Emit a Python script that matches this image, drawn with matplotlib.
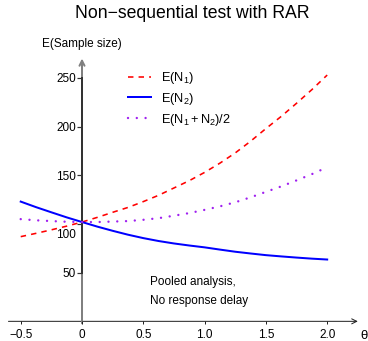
import matplotlib
matplotlib.use("Agg")
import matplotlib.pyplot as plt

plt.rcParams['font.family'] = ['Liberation Sans', 'DejaVu Sans']
plt.rcParams['mathtext.fontset'] = 'custom'
plt.rcParams['mathtext.rm'] = 'Liberation Sans'
plt.rcParams['mathtext.it'] = 'Liberation Sans:italic'

# values
theta = [-0.5, -0.375, -0.25, -0.125, 0.0, 0.125, 0.25, 0.375, 0.5, 0.625, 0.75,
         0.875, 1.0, 1.125, 1.25, 1.375, 1.5, 1.625, 1.75, 1.875, 2.0]
e_n1 = [87, 90.4, 94, 97.8, 102, 106.8, 112, 117, 123, 129.5, 137,
        144.5, 153, 162.5, 173, 185, 198, 210.5, 224, 238, 253]
e_n2 = [123, 117.3, 112, 106.8, 102, 97.3, 93, 89, 85.5, 82.5, 80,
        77.9, 76, 73.7, 71.5, 69.7, 68, 66.7, 65.5, 64.4, 63.5]
e_mean = [105, 103.8, 103, 102.3, 102, 102, 102.5, 103, 104.3, 106, 108.5,
          111.2, 114.5, 118.1, 122.3, 127.4, 133, 138.6, 144.8, 151.2, 158.3]

x_ticks = [-0.5, 0, 0.5, 1.0, 1.5, 2.0]
x_labels = ['\u22120.5', '0', '0.5', '1.0', '1.5', '2.0']
y_ticks = [50, 100, 150, 200, 250]
y_labels = ['50', '', '150', '200', '250']

W, H, DPI = 368, 341, 100
fig = plt.figure(figsize=(W / DPI, H / DPI), dpi=DPI)
ax = fig.add_axes([0, 0, 1, 1])
ax.set_xlim(-0.669, 2.333)
ax.set_ylim(-20.2, 330.1)
ax.patch.set_visible(False)

px = 72.0 / DPI  # points per pixel
fs = 8.5

# curves
ax.plot(theta, e_n1, color='#FF0000', lw=1.6 * px, linestyle=(0, (3.4, 3.2)),
        label=r'$\mathrm{E(N_1)}$', zorder=3)
ax.plot(theta, e_n2, color='#0000FF', lw=2.0 * px, label=r'$\mathrm{E(N_2)}$', zorder=3)
ax.plot(theta, e_mean, color='#A020F0', lw=2.4 * px, linestyle=(0, (0.01, 3.65)),
        dash_capstyle='round', label=r'$\mathrm{E(N_1+N_2)/2}$', zorder=3)

# axes through the origin
for s in ['top', 'right', 'bottom']:
    ax.spines[s].set_visible(False)
ax.spines['left'].set_position(('data', 0))
ax.spines['left'].set_bounds(50, 250)
ax.spines['left'].set_color('#333333')
ax.spines['left'].set_linewidth(2.0 * px)
ax.spines['left'].set_zorder(2)

ax.set_xticks(x_ticks)
ax.set_xticklabels(x_labels)
ax.set_yticks(y_ticks)
ax.set_yticklabels(y_labels)
ax.tick_params(axis='x', direction='out', length=3 * px, width=1.0 * px,
               color='#222222', labelsize=fs, pad=3.5)
ax.tick_params(axis='y', direction='out', length=5.5 * px, width=1.2 * px,
               color='#333333', labelsize=fs, pad=0.5)
# x axis ticks hang from y = 0
for t in ax.xaxis.get_major_ticks():
    t.tick1line.set_transform(ax.transData)
    t.label1.set_transform(ax.transData + matplotlib.transforms.ScaledTranslation(0, -8 / DPI, fig.dpi_scale_trans))

ax.annotate('', xy=(2.25, 0), xytext=(-0.6, 0),
            arrowprops=dict(arrowstyle='->', color='#222222', lw=1.0 * px,
                            shrinkA=0, shrinkB=0, mutation_scale=9), zorder=1)
ax.annotate('', xy=(0, 270), xytext=(0, -2),
            arrowprops=dict(arrowstyle='->', color='#808080', lw=2.0 * px,
                            shrinkA=0, shrinkB=0, mutation_scale=9), zorder=1)

# shifted "100" label, as in the reference
ax.annotate('100', xy=(0, 100), xytext=(-6.5, -11.5), textcoords='offset pixels',
            ha='right', va='center', fontsize=fs)

ax.text(0, 285, 'E(Sample size)', ha='center', va='center', fontsize=fs)
ax.text(2.30, -15, '\u03b8', ha='center', va='center', fontsize=9.5)
ax.text(0.555, 40.4, 'Pooled analysis,', ha='left', va='center', fontsize=fs)
ax.text(0.555, 21, 'No response delay', ha='left', va='center', fontsize=fs)

fig.text(192 / W, 1 - 14 / H, 'Non\u2212sequential test with RAR',
         ha='center', va='center', fontsize=12.7)

ax.legend(loc='upper left', bbox_to_anchor=(128 / W, 1 - 70 / H),
          bbox_transform=fig.transFigure, frameon=False, fontsize=9.2,
          borderpad=0, borderaxespad=0, handlelength=1.8, handletextpad=0.8,
          labelspacing=0.38)

fig.savefig('out.png', dpi=DPI)
